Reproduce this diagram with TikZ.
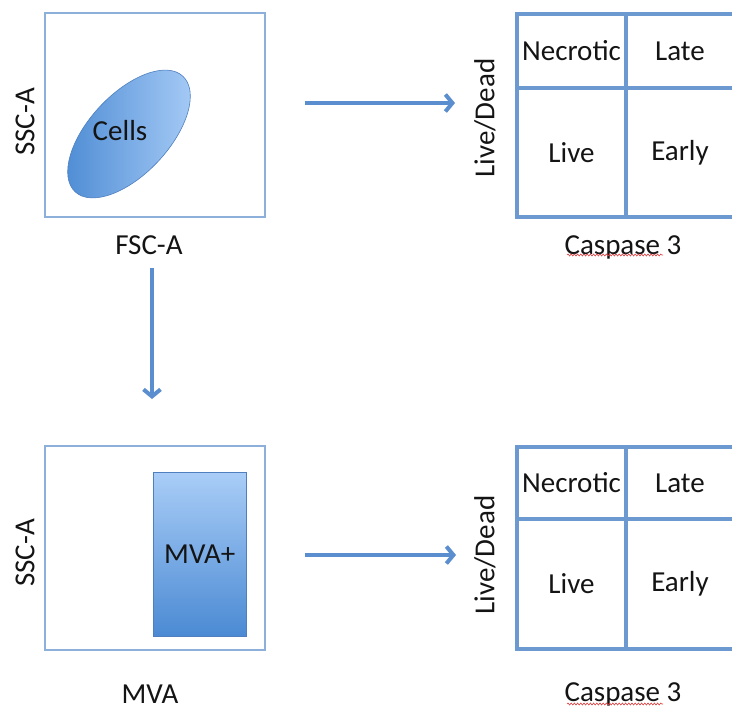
\documentclass[tikz,border=0pt]{standalone}
\usepackage{fontspec}
\setmainfont{Carlito}
\usepackage{tikz}
\usetikzlibrary{calc, positioning, shapes.geometric, arrows.meta, decorations.pathmorphing}
\definecolor{plotframe}{HTML}{8DB0DA}
\definecolor{quadline}{HTML}{6C9AD0}
\definecolor{gatelight}{HTML}{A9CDF7}
\definecolor{gatedark}{HTML}{4B8AD3}
\definecolor{gateedge}{HTML}{4F7FBF}
\definecolor{flowblue}{HTML}{5B8ECF}
\definecolor{spellred}{HTML}{E23B3B}
\definecolor{ink}{HTML}{141414}
\newcommand{\fsLabel}{\fontsize{29}{34}\selectfont}

\tikzset{
  plotbox/.style={draw=plotframe, line width=2.6pt, minimum width=220pt, minimum height=204pt,
    inner sep=0, outer sep=0, anchor=north west},
  quad/.style={draw=quadline, line width=3.2pt, inner sep=0, outer sep=0, anchor=north west},
  gate/.style={draw=gateedge, line width=0.6pt, inner sep=0},
  axis/.style={inner sep=0pt},
  flow/.style={draw=flowblue, line width=4pt, -{Straight Barb[length=7pt, width=17pt]}},
  spell/.style={draw=spellred, line width=0.6pt, decorate,
    decoration={snake, amplitude=1pt, segment length=3.2pt}},
}

\begin{document}
\begin{tikzpicture}[x=1pt, y=-1pt, every node/.style={font=\fsLabel, text=ink}]
  \useasboundingbox (0,0) rectangle (732,710);
  \clip (0,0) rectangle (732,710);

  % FSC/SSC plot with cell gate
  \node[plotbox] (scatter) at (45,13) {};
  \node[gate, ellipse, minimum width=158pt, minimum height=80pt, rotate=47,
    left color=gatedark, right color=gatelight] (cells) at (129,134) {};
  \node (cellslbl) at (120,131) {Cells};
  \node[axis, rotate=90] (ssc1) at (25,122) {SSC-A};
  \node[axis] (fsc) at (149,245) {FSC-A};

  % quadrants, top
  \node[quad, minimum width=109pt, minimum height=74pt] (necro1) at (517,14) {Necrotic};
  \node[quad, minimum width=108pt, minimum height=74pt] (late1) at (626,14) {Late};
  \node[quad, minimum width=109pt, minimum height=129pt] (live1) at (517,88) {Live};
  \node[quad, minimum width=108pt, minimum height=129pt] (early1) at (626,88) {Early};
  \node[axis, rotate=90] (ld1) at (485,118) {Live/Dead};
  \node[axis] (casp1) at (623,247) {Caspase 3};
  \draw[spell] (567,255) -- (663,255);

  % MVA plot with MVA+ gate
  \node[plotbox] (mvaplot) at (45,446) {};
  \node[gate, anchor=north west, minimum width=93pt, minimum height=164pt,
    top color=gatelight, bottom color=gatedark] (mvapos) at (153,472) {MVA+};
  \node[axis, rotate=90] (ssc2) at (25,553) {SSC-A};
  \node[axis] (mva) at (150,694) {MVA};

  % quadrants, bottom
  \node[quad, minimum width=109pt, minimum height=72pt] (necro2) at (517,447) {Necrotic};
  \node[quad, minimum width=108pt, minimum height=72pt] (late2) at (626,447) {Late};
  \node[quad, minimum width=109pt, minimum height=130pt] (live2) at (517,519) {Live};
  \node[quad, minimum width=108pt, minimum height=130pt] (early2) at (626,519) {Early};
  \node[axis, rotate=90] (ld2) at (485,555) {Live/Dead};
  \node[axis] (casp2) at (623,694) {Caspase 3};
  \draw[spell] (567,704) -- (663,704);

  % arrows
  \coordinate (topfrom) at (305,103);
  \coordinate (topto) at (455,103);
  \coordinate (downfrom) at (152,268);
  \coordinate (downto) at (152,399);
  \coordinate (botfrom) at (305,555);
  \coordinate (botto) at (456,555);
  \draw[flow] (topfrom) -- (topto);
  \draw[flow] (downfrom) -- (downto);
  \draw[flow] (botfrom) -- (botto);
\end{tikzpicture}
\end{document}
